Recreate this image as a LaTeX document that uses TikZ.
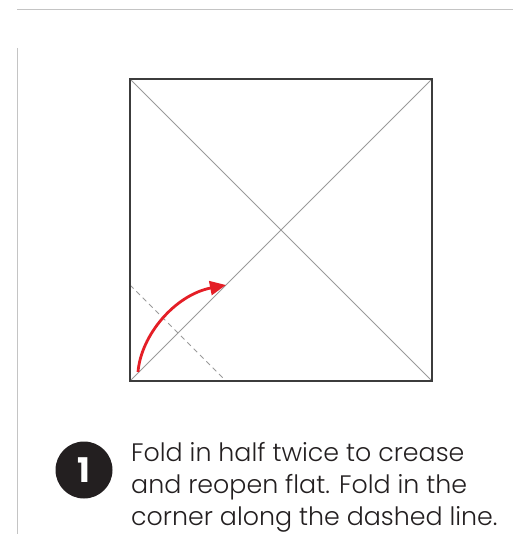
\documentclass[tikz,border=0pt]{standalone}
\usepackage{fontspec}
\setmainfont{Poppins Light}[BoldFont={Poppins Bold}]
\usetikzlibrary{arrows.meta}
\definecolor{rulegray}{HTML}{C4C4C4}
\definecolor{creasegray}{HTML}{9A9A9A}
\definecolor{edgegray}{HTML}{3C3C3C}
\definecolor{foldred}{HTML}{E41E26}
\definecolor{inkdark}{HTML}{231F20}
\tikzset{
  rule/.style={draw=rulegray, line width=1pt},
  edge/.style={draw=edgegray, line width=1.3pt},
  crease/.style={draw=creasegray, line width=1pt},
  foldline/.style={draw=creasegray, line width=1pt, dash pattern=on 5pt off 4pt},
  foldarrow/.style={draw=foldred, line width=2.8pt, -{Triangle[length=16pt,width=14pt]}},
  badge/.style={circle, fill=inkdark, minimum size=57pt, inner sep=0pt, text=white, font=\fontsize{34}{34}\selectfont\bfseries},
  caption/.style={anchor=base west, align=left, inner sep=0pt, text=inkdark, font=\fontsize{25.3}{31.7}\selectfont}
}
\begin{document}
\begin{tikzpicture}[x=1pt,y=-1pt]
\useasboundingbox (0,0) rectangle (513,534);
% rules
\coordinate (ta) at (17,10);
\coordinate (tb) at (513,10);
\coordinate (la) at (17,48);
\coordinate (lb) at (17,534);
\draw[rule] (ta) -- (tb);
\draw[rule] (la) -- (lb);
% square
\coordinate (A) at (130,79);
\coordinate (B) at (432,79);
\coordinate (C) at (432,381);
\coordinate (D) at (130,381);
\draw[crease] (A) -- (C);
\draw[crease] (B) -- (D);
\coordinate (d1) at (130,285);
\coordinate (d2) at (226,381);
\draw[foldline] (d1) -- (d2);
\draw[edge] (A) -- (B) -- (C) -- (D) -- cycle;
% arrow
\coordinate (as) at (138,372);
\coordinate (ae) at (226,285);
\draw[foldarrow] (as) .. controls (141,335) and (175,295) .. (ae);
% caption
\node[badge] (num) at (84,470) {1};
\node[caption] (txt) at (131,525) {Fold in half twice to crease\\and reopen flat. Fold in the\\corner along the dashed line.};
\end{tikzpicture}
\end{document}
